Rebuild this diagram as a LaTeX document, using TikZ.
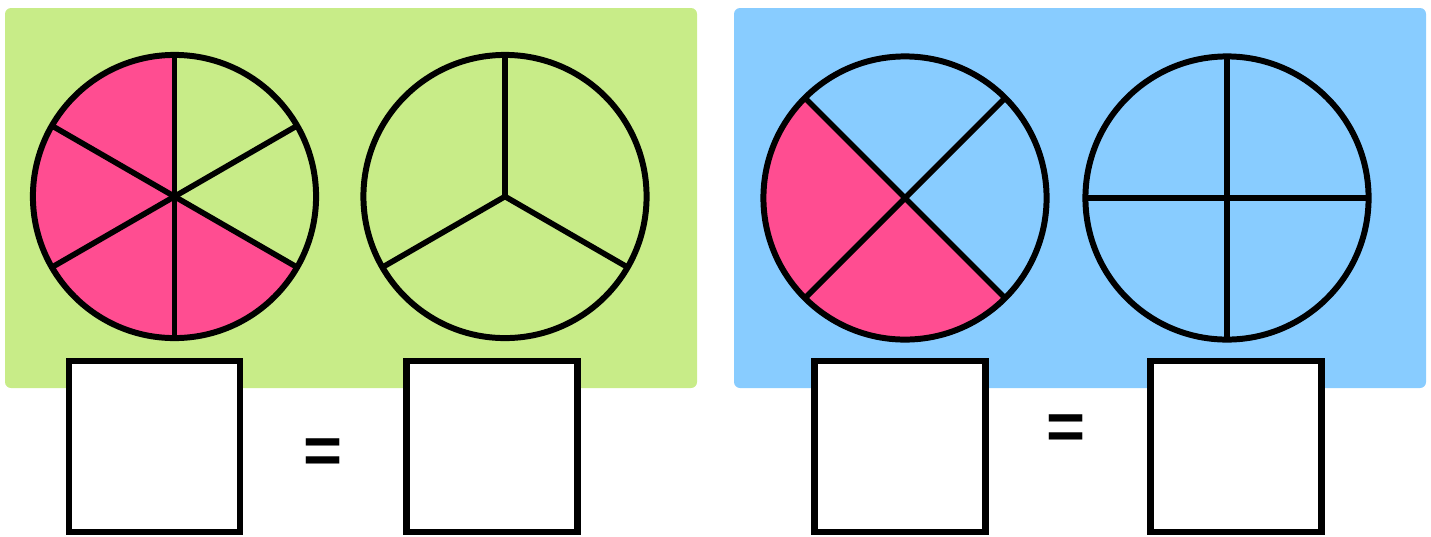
\documentclass[tikz,border=0pt]{standalone}
\usepackage{fontspec}
\setmainfont{Liberation Sans}
\usetikzlibrary{backgrounds}

\definecolor{lime}{RGB}{200,236,136}
\definecolor{sky}{RGB}{136,204,255}
\definecolor{rose}{RGB}{255,77,145}

\begin{document}
\begin{tikzpicture}[
    x=0.01cm, y=-0.01cm,
    pie/.style    = {circle, draw=black, line width=1.7pt, minimum size=2.83cm, inner sep=0pt, outer sep=0pt},
    spoke/.style  = {line width=1.6pt, black},
    panel/.style  = {rounded corners=0.6mm},
    answer/.style = {draw=black, line width=1.85pt, fill=white, minimum size=1.705cm, inner sep=0pt, outer sep=0pt},
    eq/.style     = {font=\fontsize{19}{19}\selectfont\bfseries, inner sep=0pt}
  ]
  \useasboundingbox (0,0) rectangle (1431,536);

  % --- pies ---
  \node[pie] (p1) at (174.5,196.5) {};
  \node[pie] (p2) at (505,196.5)   {};
  \node[pie] (p3) at (905,198)     {};
  \node[pie] (p4) at (1227,198)    {};

  % --- panels and shaded parts ---
  \begin{scope}[on background layer]
    \fill[lime, panel] (5,8) rectangle (697,388);
    \fill[sky, panel]  (734,8) rectangle (1426,388);
    \fill[rose] (p1.center) -- (p1.90) arc[start angle=90, end angle=330, radius=1.415cm] -- cycle;
    \fill[rose] (p3.center) -- (p3.135) arc[start angle=135, end angle=315, radius=1.415cm] -- cycle;
  \end{scope}

  % --- spokes ---
  \foreach \a in {90,30,-30,-90,-150,150}
    \draw[spoke] (p1.center) -- (p1.\a);
  \foreach \a in {90,-30,-150}
    \draw[spoke] (p2.center) -- (p2.\a);
  \foreach \a in {45,135,-135,-45}
    \draw[spoke] (p3.center) -- (p3.\a);
  \foreach \a in {0,90,180,270}
    \draw[spoke] (p4.center) -- (p4.\a);

  % --- answer boxes ---
  \node[answer] (b1) at (154.5,446.5) {};
  \node[answer] (b2) at (492,446.5)   {};
  \node[answer] (b3) at (900,446.5)   {};
  \node[answer] (b4) at (1236,446.5)  {};

  \node[eq] (e1) at (323,456)  {=};
  \node[eq] (e2) at (1066,432) {=};

\end{tikzpicture}
\end{document}
